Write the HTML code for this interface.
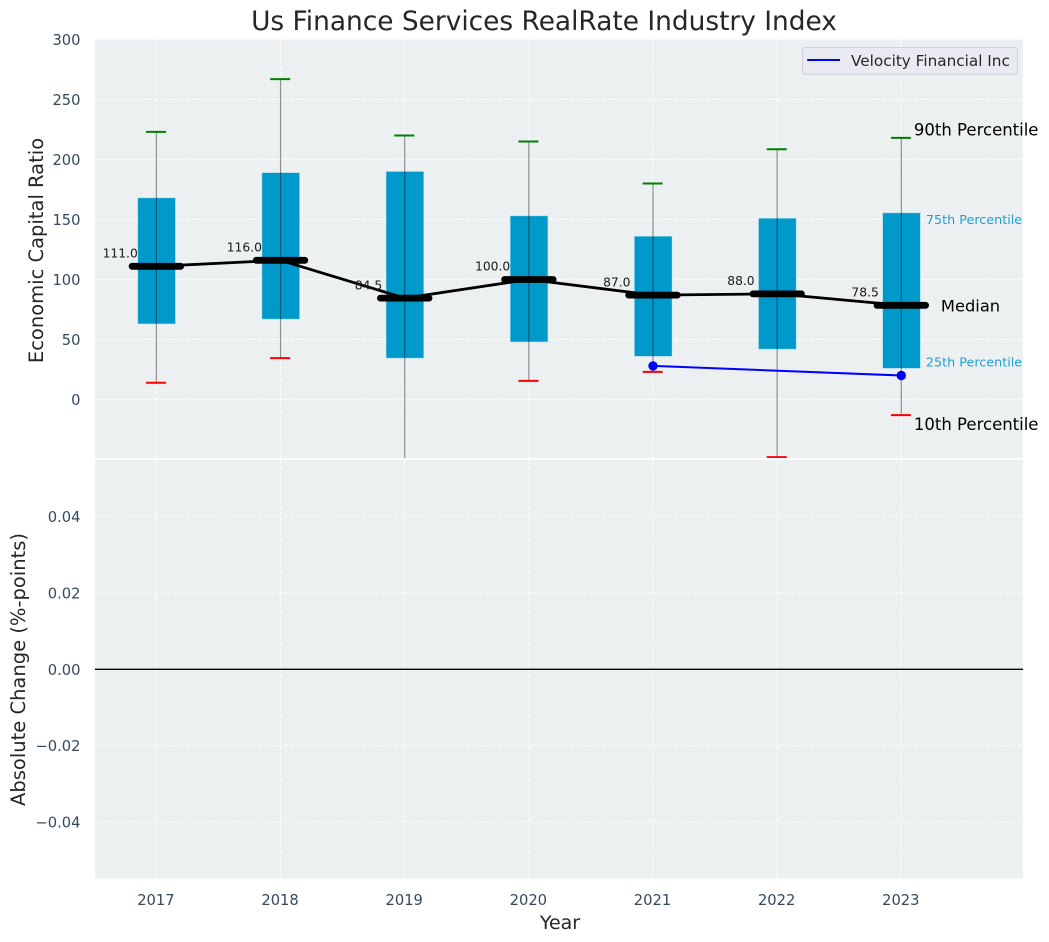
<!DOCTYPE html>
<html>
<head>
<meta charset="utf-8">
<title>Us Finance Services RealRate Industry Index</title>
<style>
html,body{margin:0;padding:0;background:#fff;}
svg{display:block;}
text{font-family:"DejaVu Sans","Liberation Sans",sans-serif;}
</style>
</head>
<body>
<svg id="chart" width="1049" height="942" viewBox="0 0 1049 942" xmlns="http://www.w3.org/2000/svg"></svg>
<script>
const years = [2017, 2018, 2019, 2020, 2021, 2022, 2023];
const p10 = [14, 34.5, -60, 15.5, 23, -48, -13];
const p25 = [63, 67, 34.5, 48, 36, 42, 26];
const medians = [111, 116, 84.5, 100, 87, 88, 78.5];
const p75 = [168, 189, 190, 153, 136, 151, 155.5];
const p90 = [223, 267, 220, 215, 180, 208.5, 218];
const companyYears = [2021, 2023];
const companyValues = [28, 20];
const topTicks = [0, 50, 100, 150, 200, 250, 300];
const bottomTicks = [-0.04, -0.02, 0, 0.02, 0.04];

const NS = 'http://www.w3.org/2000/svg';
const svg = document.getElementById('chart');
const left = 95, right = 1023;
const topA = 39.5, botA = 458;
const topB = 459.8, botB = 878.5;

function x(v) { return 156.4 + (v - 2017) * 124.15; }
function yTop(v) { return 399.5 - v * 1.2; }
function yBottom(v) { return 669.3 - v * 3815; }

function make(tag, attrs, parent) {
  const el = document.createElementNS(NS, tag);
  for (const k in attrs) el.setAttribute(k, attrs[k]);
  (parent || svg).appendChild(el);
  return el;
}
function label(str, px, py, size, fill, anchor, parent) {
  const el = make('text', {x: px, y: py, 'font-size': size, fill: fill, 'text-anchor': anchor || 'start'}, parent);
  el.textContent = str;
  return el;
}
function fmtBottom(v) {
  return (v < 0 ? '\u2212' : '') + Math.abs(v).toFixed(2);
}

const defs = make('defs', {});
const clip = make('clipPath', {id: 'top-clip'}, defs);
make('rect', {x: left, y: topA, width: right - left, height: botA - topA}, clip);

let el;

el = make('rect', {x: left, y: topA, width: right - left, height: botA - topA, fill: '#ecf0f1'});



el = make('rect', {x: left, y: topB, width: right - left, height: botB - topB, fill: '#ecf0f1'});



const gridStyle = {stroke: '#ffffff', 'stroke-width': 1, 'stroke-dasharray': '4.5 2', 'stroke-opacity': 0.85};

years.forEach(function (yr) {
  el = make('line', Object.assign({x1: x(yr), x2: x(yr), y1: topA, y2: botA}, gridStyle));
  
  
  el = make('line', Object.assign({x1: x(yr), x2: x(yr), y1: topB, y2: botB}, gridStyle));
  
  
  el = label(String(yr), x(yr) - 0.5, 905, 14.7, '#34495e', 'middle');
  
  
});

topTicks.forEach(function (t) {
  if (t !== 300) {
    el = make('line', Object.assign({x1: left, x2: right, y1: yTop(t), y2: yTop(t)}, gridStyle));
    
    
  }
  el = label(String(t), 80.5, yTop(t) + 5.5, 14.7, '#34495e', 'end');
  
  
});

bottomTicks.forEach(function (t) {
  el = make('line', Object.assign({x1: left, x2: right, y1: yBottom(t), y2: yBottom(t)}, gridStyle));
  
  
  el = label(fmtBottom(t), 80.5, yBottom(t) + 5.5, 14.7, '#34495e', 'end');
  
  
});

el = make('line', {x1: left, x2: right, y1: yBottom(0), y2: yBottom(0), stroke: '#000000', 'stroke-width': 1.4});



const plot = make('g', {'clip-path': 'url(#top-clip)'});



years.forEach(function (yr, i) {
  const halfBox = 18.8;
  el = make('rect', {
    x: x(yr) - halfBox + 0.2, y: yTop(p75[i]), width: halfBox * 2, height: yTop(p25[i]) - yTop(p75[i]),
    fill: '#0099cc', stroke: '#a8dcee', 'stroke-width': 0.6, 'stroke-opacity': 0.8
  }, plot);
  
  

  el = make('line', {
    x1: x(yr), x2: x(yr), y1: yTop(p90[i]), y2: yTop(p10[i]),
    stroke: '#000000', 'stroke-opacity': 0.42, 'stroke-width': 1.2
  }, plot);
  
  

  el = make('line', {
    x1: x(yr) - 10.4, x2: x(yr) + 9.6, y1: yTop(p90[i]), y2: yTop(p90[i]),
    stroke: '#008000', 'stroke-width': 2
  }, plot);
  
  

  el = make('line', {
    x1: x(yr) - 10.4, x2: x(yr) + 9.6, y1: yTop(p10[i]), y2: yTop(p10[i]),
    stroke: '#ff0000', 'stroke-width': 2
  }, plot);
  
  

  el = label(medians[i].toFixed(1), x(yr) - 36.2, yTop(medians[i]) - 8.8, 12.3, '#1a1a1a', 'middle');
  
  
});

el = make('polyline', {
  points: years.map(function (yr, i) { return x(yr) + ',' + yTop(medians[i]); }).join(' '),
  fill: 'none', stroke: '#000000', 'stroke-width': 2.8, 'stroke-linejoin': 'round'
}, plot);



years.forEach(function (yr, i) {
  el = make('line', {
    x1: x(yr) - 24.3, x2: x(yr) + 24.3, y1: yTop(medians[i]), y2: yTop(medians[i]),
    stroke: '#000000', 'stroke-width': 6.8, 'stroke-linecap': 'round'
  }, plot);
  
  
});

el = make('polyline', {
  points: companyYears.map(function (yr, i) { return x(yr) + ',' + yTop(companyValues[i]); }).join(' '),
  fill: 'none', stroke: '#0000ff', 'stroke-width': 2
}, plot);



companyYears.forEach(function (yr, i) {
  el = make('circle', {cx: x(yr), cy: yTop(companyValues[i]), r: 4.7, fill: '#0000ff'}, plot);
  
  
});

const last = years.length - 1;
const lastX = x(years[last]);

el = label('90th Percentile', lastX + 12.6, yTop(p90[last]) - 2.5, 16.5, '#000000');



el = label('75th Percentile', lastX + 24.6, yTop(p75[last]) + 11, 12.75, '#1f9fd0');



el = label('Median', lastX + 39.6, yTop(medians[last]) + 6, 16.3, '#000000');



el = label('25th Percentile', lastX + 24.6, yTop(p25[last]) - 2, 12.75, '#1f9fd0');



el = label('10th Percentile', lastX + 12.6, yTop(p10[last]) + 15, 16.5, '#000000');



const legend = make('g', {});



el = make('rect', {x: 802.5, y: 47.5, width: 215, height: 26.8, rx: 2.5, fill: '#eaeaf2', stroke: '#d0d0d4', 'stroke-width': 1}, legend);



el = make('line', {x1: 807.2, x2: 840, y1: 60, y2: 60, stroke: '#0000ff', 'stroke-width': 2}, legend);



el = label('Velocity Financial Inc', 851, 66, 15.25, '#262626', 'start', legend);



el = label('Us Finance Services RealRate Industry Index', 544, 30, 26.4, '#262626', 'middle');



el = label('Economic Capital Ratio', 0, 0, 19.5, '#262626', 'middle');
el.setAttribute('transform', 'translate(43 250.5) rotate(-90)');



el = label('Absolute Change (%-points)', 0, 0, 19.5, '#262626', 'middle');
el.setAttribute('transform', 'translate(25 669.5) rotate(-90)');



el = label('Year', 560, 929, 19, '#262626', 'middle');


</script>
</body>
</html>
